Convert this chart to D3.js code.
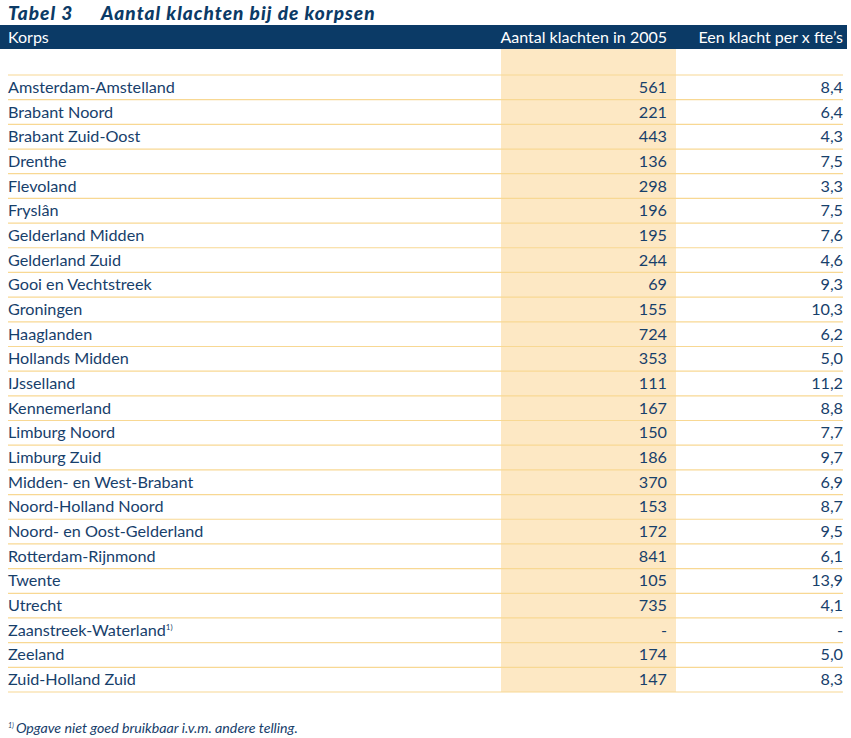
<!DOCTYPE html>
<html>
<head>
<meta charset="utf-8">
<script src="https://cdn.jsdelivr.net/npm/d3@7"></script>
<style>
html,body{margin:0;padding:0;background:#fff;}
svg{display:block;}
</style>
</head>
<body>
<svg id="chart" width="851" height="738"></svg>
<script>
const korpsen = ["Amsterdam-Amstelland","Brabant Noord","Brabant Zuid-Oost","Drenthe","Flevoland","Fryslân","Gelderland Midden","Gelderland Zuid","Gooi en Vechtstreek","Groningen","Haaglanden","Hollands Midden","IJsselland","Kennemerland","Limburg Noord","Limburg Zuid","Midden- en West-Brabant","Noord-Holland Noord","Noord- en Oost-Gelderland","Rotterdam-Rijnmond","Twente","Utrecht","Zaanstreek-Waterland","Zeeland","Zuid-Holland Zuid"];
const aantalKlachten = [561,221,443,136,298,196,195,244,69,155,724,353,111,167,150,186,370,153,172,841,105,735,null,174,147];
const klachtPerFte = [8.4,6.4,4.3,7.5,3.3,7.5,7.6,4.6,9.3,10.3,6.2,5.0,11.2,8.8,7.7,9.7,6.9,8.7,9.5,6.1,13.9,4.1,null,5.0,8.3];
const footnoteRows = ["Zaanstreek-Waterland"];
const columnHeaders = ["Korps","Aantal klachten in 2005","Een klacht per x fte’s"];
const titleLabel = "Tabel 3";
const titleText = "Aantal klachten bij de korpsen";
const footnoteText = "Opgave niet goed bruikbaar i.v.m. andere telling.";

const navy = "#0b3a66";
const textCol = "#17406b";
const hlCol = "#fde8c4";
const lineCol = "#f8d893";
const font = "Lato, 'Open Sans', sans-serif";

const svg = d3.select("#chart");

// title
const title = svg.append("text").attr("y", 19.5)
  .attr("font-family", font).attr("font-size", 19).attr("font-weight", 900)
  .attr("font-style", "italic").attr("letter-spacing", 1.05).attr("fill", navy);
title.append("tspan").attr("x", 8).text(titleLabel);
title.append("tspan").attr("x", 101).text(titleText);

// header bar
svg.append("rect").attr("x", 0).attr("y", 25).attr("width", 847).attr("height", 24).attr("fill", navy);

const x = d3.scaleOrdinal().domain(columnHeaders).range([8, 667, 843]);
const anchors = ["start","end","end"];
columnHeaders.forEach((h,i)=>{
  svg.append("text").attr("x", x(h)).attr("y", 43).attr("text-anchor", anchors[i])
    .attr("font-family", font).attr("font-size", 16).attr("fill", "#fff").text(h);
});

// rows
const y = d3.scaleBand().domain(korpsen).range([75, 692]).padding(0);

// highlight column
svg.append("rect").attr("x", 501).attr("y", 49).attr("width", 175).attr("height", y.range()[1]-49).attr("fill", hlCol);

// lines
const lineYs = [y.range()[0]].concat(korpsen.map(k => y(k) + y.bandwidth()));
svg.selectAll("line.row").data(lineYs).join("line")
  .attr("x1", 8).attr("x2", 843).attr("y1", d=>d).attr("y2", d=>d)
  .attr("stroke", lineCol).attr("stroke-width", 1.2);

const fmt = v => v == null ? "-" : d3.format(".1f")(v).replace(".", ",");

const rows = svg.selectAll("g.row").data(korpsen).join("g")
  .attr("transform", d => `translate(0,${y(d) + y.bandwidth()/2 + 5.5})`);

const nameText = rows.append("text").attr("x", x(columnHeaders[0]))
  .attr("font-family", font).attr("font-size", 16.2).attr("fill", textCol)
  .text(d=>d);
nameText.filter(d => footnoteRows.includes(d)).append("tspan")
  .attr("font-size", 8).attr("dy", -6).text("1)");

rows.append("text").attr("x", x(columnHeaders[1])).attr("text-anchor","end")
  .attr("font-family", font).attr("font-size", 16.2).attr("fill", textCol)
  .text((d,i)=> aantalKlachten[i] == null ? "-" : aantalKlachten[i]);
rows.append("text").attr("x", x(columnHeaders[2])).attr("text-anchor","end")
  .attr("font-family", font).attr("font-size", 16.2).attr("fill", textCol)
  .text((d,i)=> fmt(klachtPerFte[i]));

// footnote
const fn = svg.append("text").attr("x", 8).attr("y", 733)
  .attr("font-family", font).attr("font-size", 14.2).attr("font-style","italic").attr("fill", textCol);
fn.append("tspan").attr("font-size", 7).attr("dy", -5).text("1)");
fn.append("tspan").attr("dy", 5).attr("dx", 2).text(footnoteText);
</script>
</body>
</html>
